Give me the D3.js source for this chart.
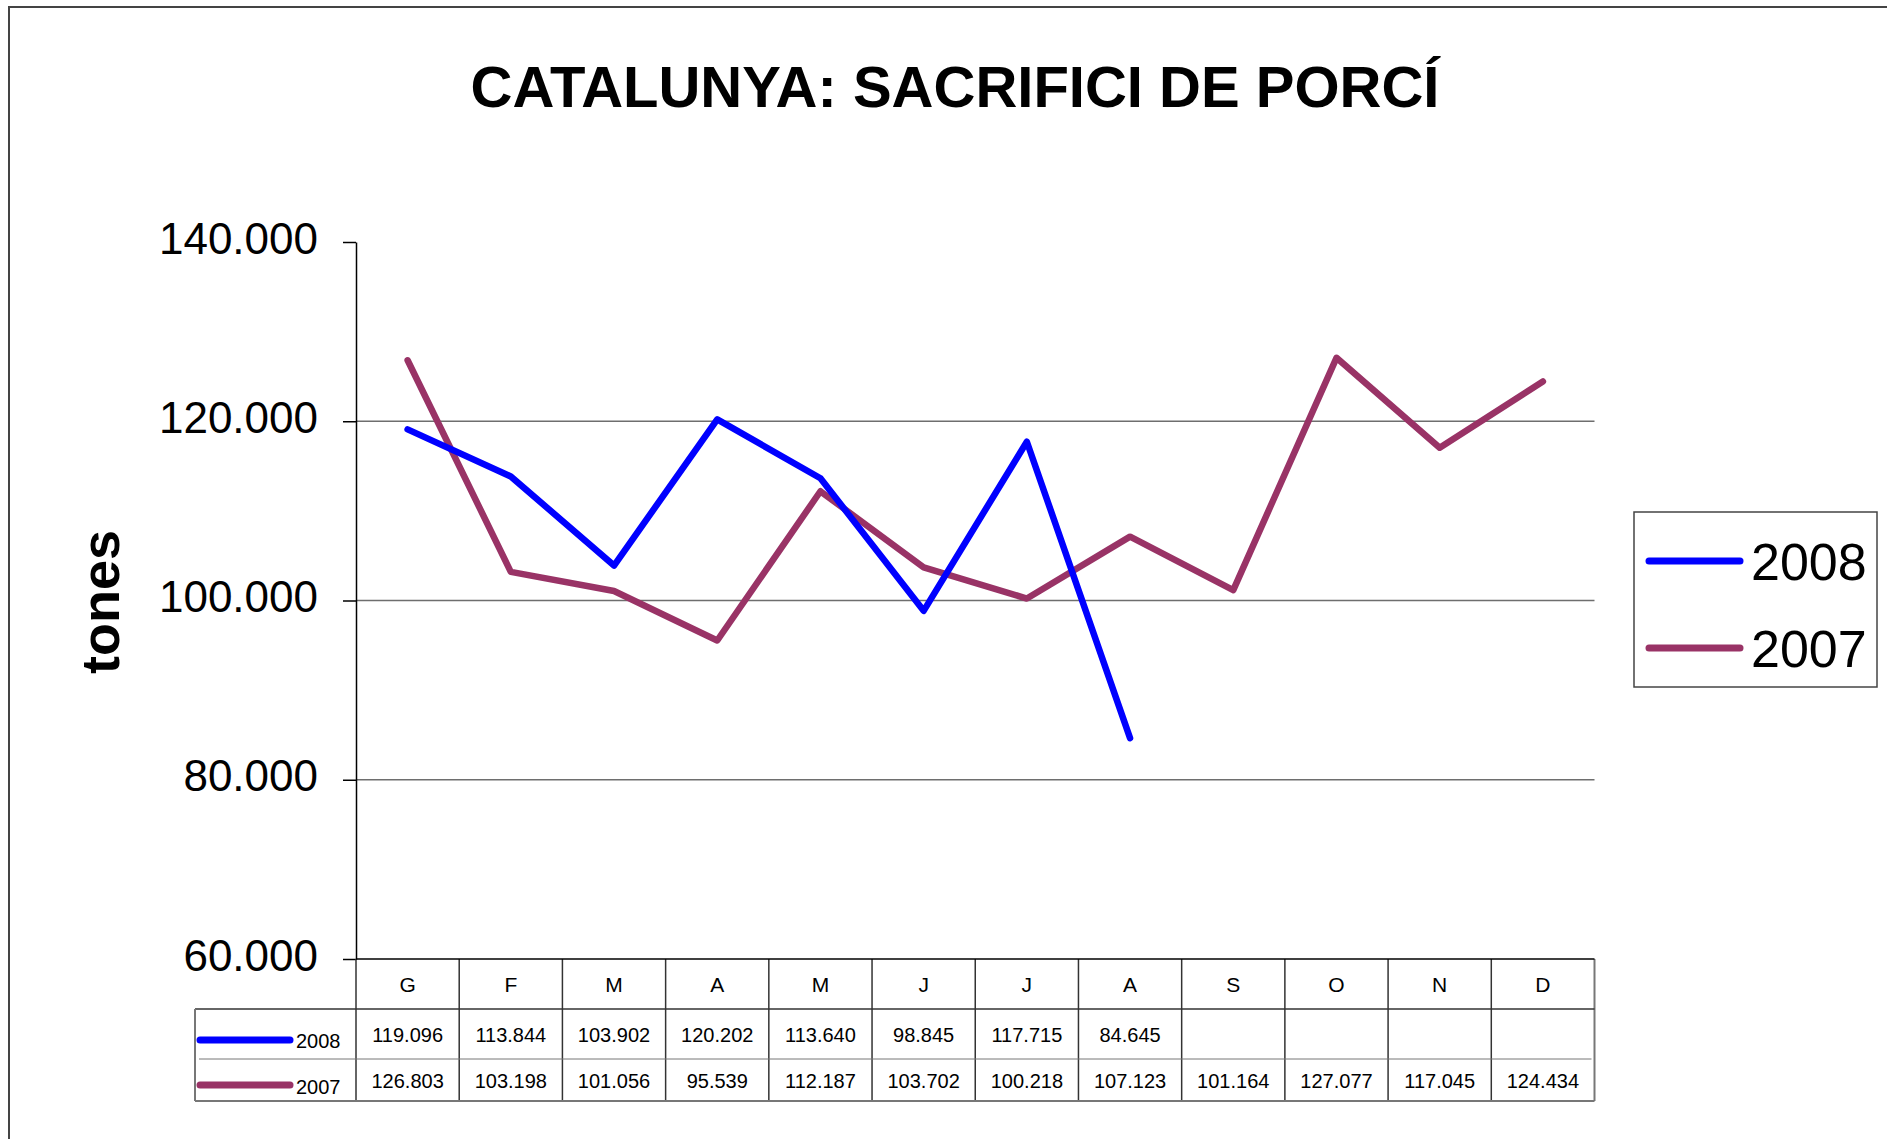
<!DOCTYPE html>
<html>
<head>
<meta charset="utf-8">
<script src="https://cdn.jsdelivr.net/npm/d3@7"></script>
<style>
  body { margin: 0; background: #fff; }
  svg { font-family: "Liberation Sans", Arial, sans-serif; }
</style>
</head>
<body>
<svg width="1887" height="1139"></svg>
<script>
// chart data
var months = ["G", "F", "M", "A", "M", "J", "J", "A", "S", "O", "N", "D"];
var values2008 = [119096, 113844, 103902, 120202, 113640, 98845, 117715, 84645, null, null, null, null];
var values2007 = [126803, 103198, 101056, 95539, 112187, 103702, 100218, 107123, 101164, 127077, 117045, 124434];
var yTicks = [60000, 80000, 100000, 120000, 140000];

var series = [
  {name: "2008", values: values2008, color: "#0000ff"},
  {name: "2007", values: values2007, color: "#993366"}
];

var svg = d3.select("svg"),
    plotLeft = 356, plotRight = 1594.5, plotTop = 242, plotBottom = 959;

// number format with dots as thousands separator
var loc = d3.formatLocale({decimal: ",", thousands: ".", grouping: [3], currency: ["", ""]});
var fmt = loc.format(",d");

var x = d3.scaleBand().domain(d3.range(months.length)).range([plotLeft, plotRight]).padding(0),
    y = d3.scaleLinear().domain([60000, 140000]).range([plotBottom, plotTop]);

// outer frame
svg.append("path")
    .attr("d", "M9,1139V7H1887")
    .attr("fill", "none")
    .attr("stroke", "#444")
    .attr("stroke-width", 2);

// title
svg.append("text")
    .attr("x", 955)
    .attr("y", 107)
    .attr("text-anchor", "middle")
    .attr("font-size", 58)
    .attr("font-weight", "bold")
    .text("CATALUNYA: SACRIFICI DE PORCÍ");

// gridlines
svg.append("g")
  .selectAll("line")
  .data(yTicks.filter(function(d) { return d > 60000 && d < 140000; }))
  .enter().append("line")
    .attr("x1", plotLeft).attr("x2", plotRight)
    .attr("y1", function(d) { return y(d); })
    .attr("y2", function(d) { return y(d); })
    .attr("stroke", "#6e6e6e")
    .attr("stroke-width", 1.5);

// y axis
var yAxis = svg.append("g")
    .attr("transform", "translate(" + plotLeft + ",0)")
    .call(d3.axisLeft(y).tickValues(yTicks).tickFormat(fmt).tickSize(13).tickPadding(25).tickSizeOuter(0));
yAxis.select(".domain").attr("stroke", "#000").attr("stroke-width", 1.5);
yAxis.selectAll(".tick line").attr("stroke", "#000").attr("stroke-width", 1.5);
yAxis.selectAll(".tick text")
    .attr("font-size", 44)
    .attr("font-family", "Liberation Sans, Arial, sans-serif")
    .attr("fill", "#000")
    .attr("dy", "0.25em");

// y axis title
svg.append("text")
    .attr("transform", "translate(119,602) rotate(-90)")
    .attr("text-anchor", "middle")
    .attr("font-size", 54)
    .attr("font-weight", "bold")
    .text("tones");

// lines
var line = d3.line()
    .defined(function(d) { return d != null; })
    .x(function(d, i) { return x(i) + x.bandwidth() / 2; })
    .y(function(d) { return y(d); });

svg.append("g")
  .selectAll("path")
  .data(series.slice().reverse())
  .enter().append("path")
    .attr("d", function(s) { return line(s.values); })
    .attr("fill", "none")
    .attr("stroke", function(s) { return s.color; })
    .attr("stroke-width", 6.5)
    .attr("stroke-linejoin", "round")
    .attr("stroke-linecap", "round");

// legend
var legend = svg.append("g");
legend.append("rect")
    .attr("x", 1634).attr("y", 512)
    .attr("width", 243).attr("height", 175)
    .attr("fill", "#fff")
    .attr("stroke", "#444")
    .attr("stroke-width", 1.5);
var item = legend.selectAll(".item")
    .data(series)
  .enter().append("g")
    .attr("transform", function(d, i) { return "translate(0," + (561 + i * 87) + ")"; });
item.append("line")
    .attr("x1", 1649).attr("x2", 1740)
    .attr("stroke", function(d) { return d.color; })
    .attr("stroke-width", 7)
    .attr("stroke-linecap", "round");
item.append("text")
    .attr("x", 1751)
    .attr("dy", "0.36em")
    .attr("font-size", 52)
    .text(function(d) { return d.name; });

// data table
var table = svg.append("g"),
    rowTop = [1009, 1059],
    rowBot = [1059, 1101];

// header row with month letters
table.selectAll(".head")
    .data(months)
  .enter().append("text")
    .attr("x", function(d, i) { return x(i) + x.bandwidth() / 2; })
    .attr("y", 992)
    .attr("text-anchor", "middle")
    .attr("font-size", 21)
    .text(function(d) { return d; });

series.forEach(function(s, r) {
  table.selectAll(".val" + r)
      .data(s.values)
    .enter().append("text")
      .attr("x", function(d, i) { return x(i) + x.bandwidth() / 2; })
      .attr("y", (rowTop[r] + rowBot[r]) / 2 + 8)
      .attr("text-anchor", "middle")
      .attr("font-size", 20)
      .text(function(d) { return d == null ? "" : fmt(d); });

  table.append("line")
      .attr("x1", 200).attr("x2", 290)
      .attr("y1", r === 0 ? 1040 : 1085)
      .attr("y2", r === 0 ? 1040 : 1085)
      .attr("stroke", s.color)
      .attr("stroke-width", 7)
      .attr("stroke-linecap", "round");
  table.append("text")
      .attr("x", 296)
      .attr("y", r === 0 ? 1048 : 1094)
      .attr("font-size", 20)
      .text(s.name);
});

// table grid
var stroke = "#333";
// vertical dividers
table.selectAll(".vdiv")
    .data(d3.range(months.length))
  .enter().append("line")
    .attr("x1", function(i) { return x(i); })
    .attr("x2", function(i) { return x(i); })
    .attr("y1", plotBottom)
    .attr("y2", 1101)
    .attr("stroke", stroke)
    .attr("stroke-width", 1.5);
table.append("line")
    .attr("x1", plotRight).attr("x2", plotRight).attr("y1", plotBottom).attr("y2", 1101)
    .attr("stroke", "#777").attr("stroke-width", 2);
// horizontal lines
table.append("line").attr("x1", plotLeft).attr("x2", plotRight).attr("y1", plotBottom).attr("y2", plotBottom)
    .attr("stroke", "#000").attr("stroke-width", 1.5);
table.append("line").attr("x1", 195).attr("x2", plotRight).attr("y1", 1009).attr("y2", 1009)
    .attr("stroke", stroke).attr("stroke-width", 1.5);
table.append("line").attr("x1", 199).attr("x2", plotRight - 3).attr("y1", 1059).attr("y2", 1059)
    .attr("stroke", "#777").attr("stroke-width", 1);
table.append("line").attr("x1", 195).attr("x2", plotRight).attr("y1", 1101).attr("y2", 1101)
    .attr("stroke", "#777").attr("stroke-width", 2);
table.append("line").attr("x1", 195).attr("x2", 195).attr("y1", 1009).attr("y2", 1101)
    .attr("stroke", "#777").attr("stroke-width", 2);
</script>
</body>
</html>
